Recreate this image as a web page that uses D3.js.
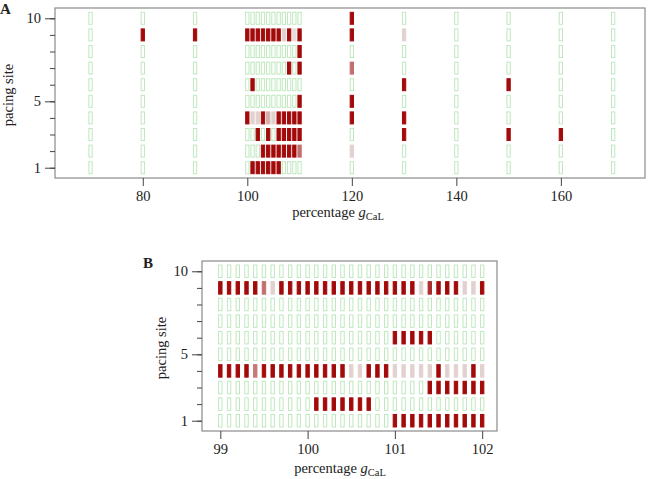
<!DOCTYPE html>
<html><head><meta charset="utf-8">
<script src="https://cdn.jsdelivr.net/npm/d3@7"></script>
<style>body{margin:0;background:#fff}svg{display:block}text{font-family:"Liberation Serif","Times New Roman",serif;fill:#222}</style>
</head><body>
<svg id="c" width="654" height="479"></svg>
<script>
// ---- Panel A data ----
const colsA = [70,80,90,100,101,102,103,104,105,106,107,108,109,110,120,130,140,150,160,170];
const ticksA = [80,100,120,140,160];
const sitesA = [10,9,8,7,6,5,4,3,2,1];
const rowsA = [
  [0,0,0, 0,0,0,0,0,0,0,0,0,0,0, 1,0,0,0,0,0],
  [0,1,1, 1,1,1,1,1,1,1,0.15,1,0.1,1, 1,0.15,0,0,0,0],
  [0,0,0, 0,0,0,0,0,0,0,0,0,0,1, 0,0,0,0,0,0],
  [0,0,0, 0,0,0,0,0,0,0,0,1,0,1, 0.55,0,0,0,0,0],
  [0,0,0, 0,1,0,0,0,0,0,0,0,0,0, 0,1,0,1,0,0],
  [0,0,0, 0,0,0,0,0,0,0,0,0,0,1, 1,0,0,0,0,0],
  [0,0,0, 1,0.15,0.15,1,0.3,0.15,1,1,1,1,1, 1,1,0,0,0,0],
  [0,0,0, 0,0,1,0,1,0,1,1,1,1,1, 0,1,0,1,1,0],
  [0,0,0, 0,0,0,1,1,1,1,1,1,1,0.55, 0.15,0,0,0,0,0],
  [0,0,0, 0,1,1,1,1,1,1,0,0,0,0, 0,0,0,0,0,0]
];
// ---- Panel B data ----
const colsB = [99.0,99.1,99.2,99.3,99.4,99.5,99.6,99.7,99.8,99.9,100.0,100.1,100.2,100.3,100.4,100.5,100.6,100.7,100.8,100.9,101.0,101.1,101.2,101.3,101.4,101.5,101.6,101.7,101.8,101.9,102.0];
const ticksB = [99,100,101,102];
const sitesB = [10,9,8,7,6,5,4,3,2,1];
const rowsB = [
  [0,0,0,0,0,0,0,0,0,0,0,0,0,0,0,0,0,0,0,0,0,0,0,0,0,0,0,0,0,0,0],
  [1,1,1,1,1,0.55,0.15,1,1,1,1,1,1,1,1,1,1,1,1,1,1,1,1,0.15,0.85,1,1,1,0.15,0.15,1],
  [0,0,0,0,0,0,0,0,0,0,0,0,0,0,0,0,0,0,0,0,0,0,0,0,0,0,0,0,0,0,0],
  [0,0,0,0,0,0,0,0,0,0,0,0,0,0,0,0,0,0,0,0,0,0,0,0,0,0,0,0,0,0,0],
  [0,0,0,0,0,0,0,0,0,0,0,0,0,0,0,0,0,0,0,0,1,1,1,1,1,0,0,0,0,0,0],
  [0,0,0,0,0,0,0,0,0,0,0,0,0,0,0,0,0,0,0,0,0,0,0,0,0,0,0,0,0,0,0],
  [1,1,1,1,0.5,1,1,1,1,1,1,1,1,1,1,0.15,0.15,1,1,1,0.15,0.15,0.15,0.15,0.15,1,0.15,0.15,0.15,1,0.15],
  [0,0,0,0,0,0,0,0,0,0,0,0,0,0,0,0,0,0,0,0,0,0,0,0,1,1,1,1,1,1,1],
  [0,0,0,0,0,0,0,0,0,0,0,1,1,1,1,1,1,1,0,0,0,0,0,0,0,0,0,0,0,0,0],
  [0,0,0,0,0,0,0,0,0,0,0,0,0,0,0,0,0,0,0,0,1,1,1,1,1,1,1,1,1,1,1]
];
const yTickLabels = [1,5,10];
const yTicksAll = [1,2,3,4,5,6,7,8,9,10];

const svg = d3.select("#c");
const col = d3.scaleLinear().domain([0.1, 0.5, 1]).range(["#e6dfdb", "#c77a7a", "#a30a0a"]).clamp(true);

function panel(o){
  const x = d3.scaleLinear().domain(o.xdom).range([o.x0, o.x1]);
  const y = d3.scaleLinear().domain([0.38, 10.62]).range([o.y1, o.y0]);
  const g = svg.append("g");
  o.rows.forEach((row, ri) => {
    const site = o.sites[ri];
    g.selectAll(null).data(row.map((v, ci) => ({v, xv: o.cols[ci]}))).join("rect")
      .attr("x", d => x(d.xv) - o.cw/2)
      .attr("y", y(site) - o.ch/2)
      .attr("width", o.cw)
      .attr("height", o.ch)
      .attr("fill", d => d.v > 0 ? col(d.v) : "#fff")
      .attr("stroke", d => d.v > 0 ? col(d.v) : "#bfe8bf")
      .attr("stroke-width", 1);
  });
  g.append("rect").attr("x", o.x0).attr("y", o.y0).attr("width", o.x1 - o.x0).attr("height", o.y1 - o.y0)
    .attr("fill", "none").attr("stroke", "#8a8a8a").attr("stroke-width", 1.2);
  const xa = g.append("g").attr("transform", `translate(0,${o.y1})`)
    .call(d3.axisBottom(x).tickValues(o.ticks).tickSize(8).tickSizeOuter(0).tickPadding(5).tickFormat(d3.format("d")));
  xa.select(".domain").remove();
  xa.selectAll("line").attr("stroke", "#444");
  xa.selectAll("text").attr("font-size", 14.5).attr("font-family", "Liberation Serif").attr("fill", "#222");
  const ym = g.append("g").attr("transform", `translate(${o.x0},0)`)
    .call(d3.axisLeft(y).tickValues(yTicksAll).tickSize(5).tickFormat(""));
  ym.select(".domain").remove();
  ym.selectAll("line").attr("stroke", "#444");
  const ya = g.append("g").attr("transform", `translate(${o.x0},0)`)
    .call(d3.axisLeft(y).tickValues(yTickLabels).tickSize(10).tickPadding(4).tickFormat(d3.format("d")));
  ya.select(".domain").remove();
  ya.selectAll("line").attr("stroke", "#444");
  ya.selectAll("text").attr("font-size", 14.5).attr("font-family", "Liberation Serif").attr("fill", "#222");
  g.append("text").attr("transform", `translate(${o.ylx},${(o.y0 + o.y1)/2 + 2}) rotate(-90)`)
    .attr("text-anchor", "middle").attr("font-size", 14.5).text("pacing site");
  const t = g.append("text").attr("x", o.xlx).attr("y", o.xly).attr("text-anchor", "middle").attr("font-size", 14.5);
  t.append("tspan").text("percentage ");
  t.append("tspan").attr("font-style", "italic").text("g");
  t.append("tspan").attr("font-size", 10.5).attr("dy", 3).text("CaL");
  g.append("text").attr("x", o.lx).attr("y", o.ly).attr("text-anchor", o.la).attr("font-size", 15).attr("font-weight", "bold").text(o.label);
}

panel({cols: colsA, rows: rowsA, sites: sitesA, ticks: ticksA, xdom: [63.2, 176.1],
  x0: 55, x1: 645, y0: 8, y1: 178, cw: 3.3, ch: 12, ylx: 13, xlx: 338, xly: 217,
  label: "A", lx: 0, ly: 14, la: "start"});
panel({cols: colsB, rows: rowsB, sites: sitesB, ticks: ticksB, xdom: [98.79, 102.17],
  x0: 202, x1: 497, y0: 261, y1: 431, cw: 3.4, ch: 12.5, ylx: 166, xlx: 340, xly: 473,
  label: "B", lx: 148, ly: 268, la: "middle"});
</script>
</body></html>
